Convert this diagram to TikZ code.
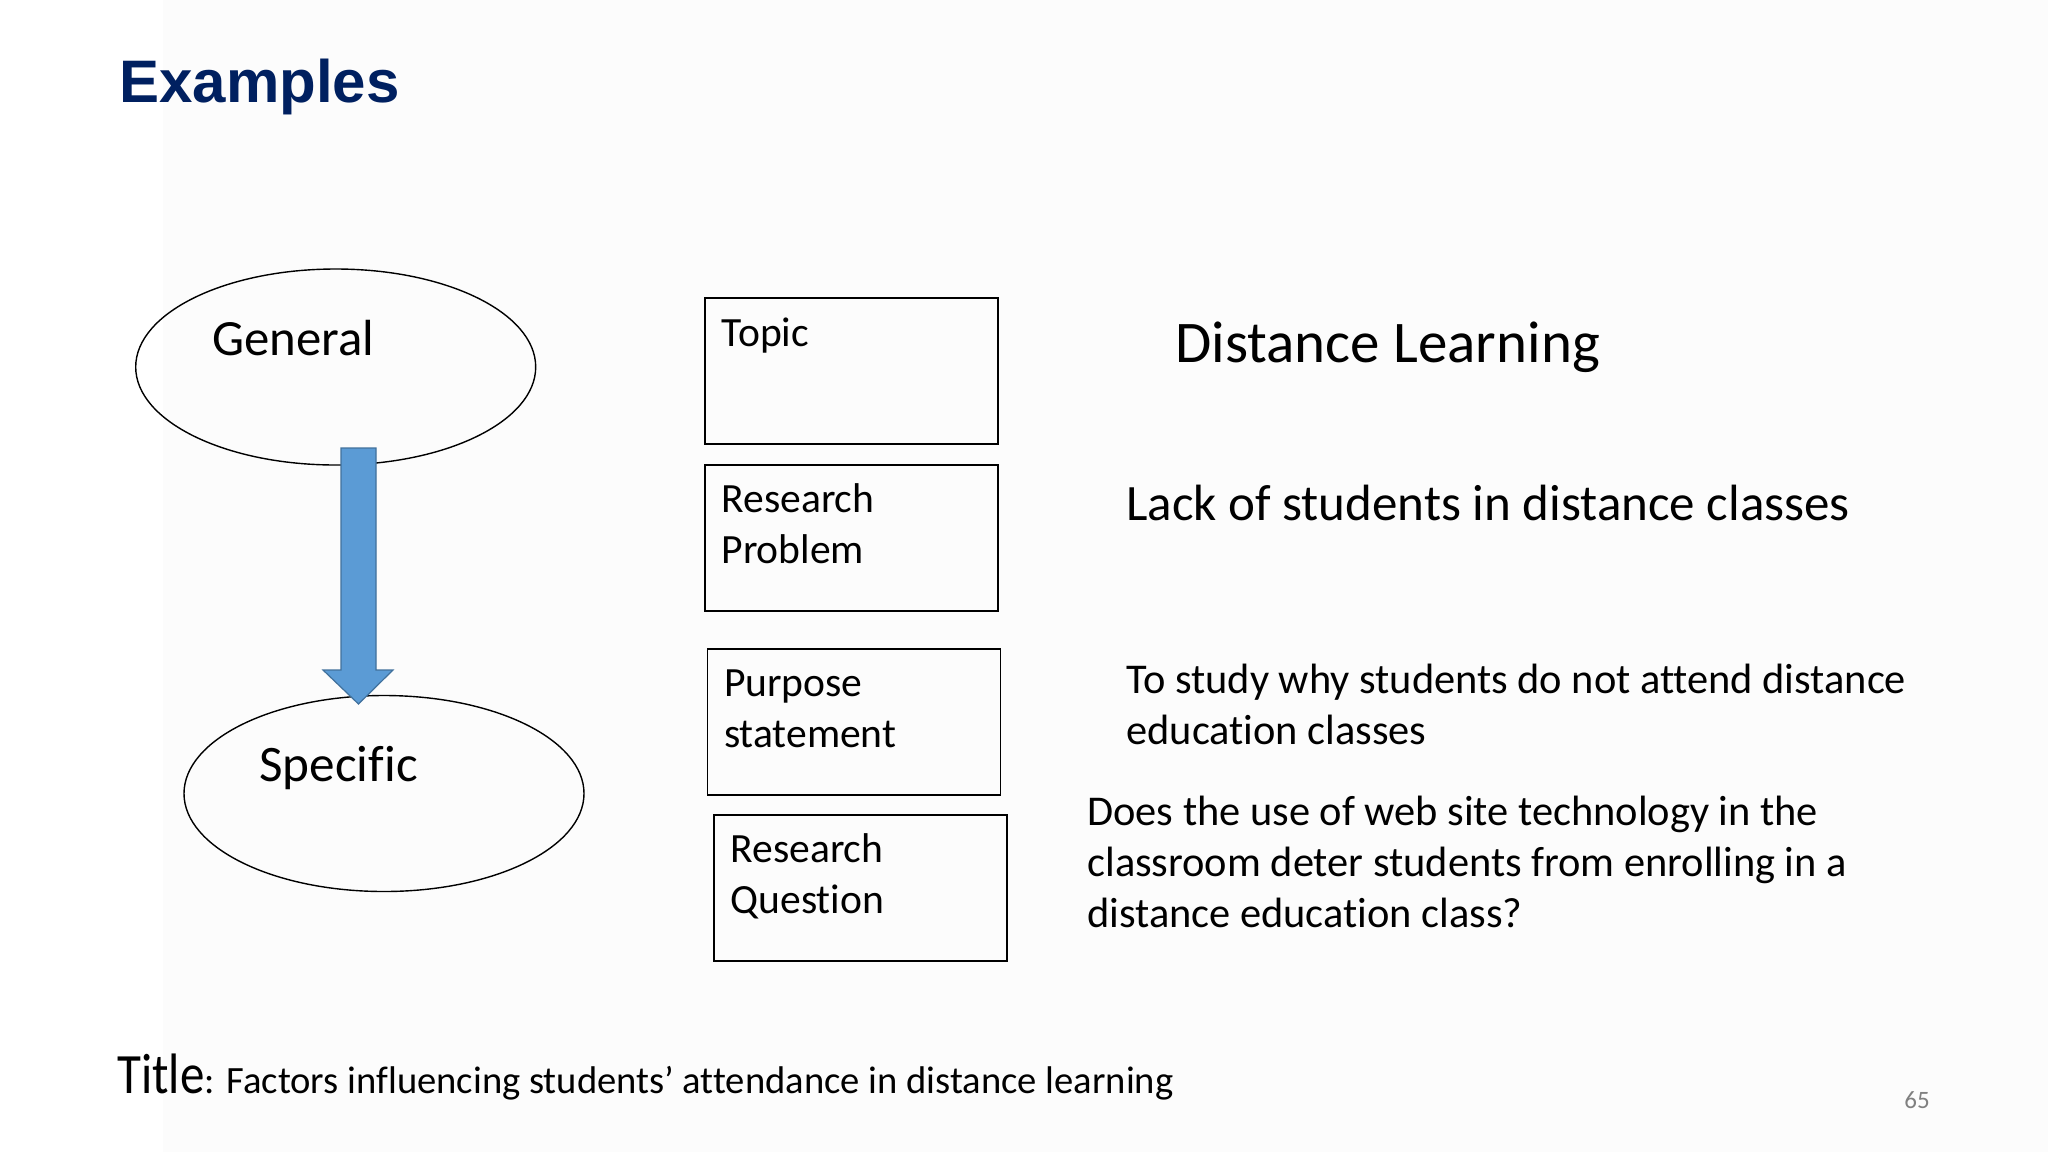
\documentclass[tikz,border=0pt]{standalone}
\usepackage{fontspec}
\setmainfont[Ligatures=NoCommon]{Carlito}
\newfontfamily\headfont{Liberation Sans}
\usetikzlibrary{positioning,calc,shapes.geometric}

\definecolor{headblue}{RGB}{0,32,96}
\definecolor{arrowblue}{RGB}{91,155,213}
\definecolor{arrowedge}{RGB}{65,113,156}
\definecolor{pagegray}{RGB}{128,128,128}
\definecolor{slidebg}{RGB}{252,252,252}

\tikzset{
  oval/.style={draw, ellipse, line width=0.7pt, minimum width=200pt, minimum height=98pt},
  box/.style={draw, rectangle, line width=0.9pt, minimum width=146.5pt, minimum height=73pt},
  txt/.style={anchor=base west, align=left, inner sep=0pt},
  boxtxt/.style={txt, font=\fontsize{20.8}{25.5}\selectfont},
  sidetxt/.style={txt, font=\fontsize{21.2}{25.5}\selectfont}
}

\begin{document}
\begin{tikzpicture}[x=0.5pt,y=-0.5pt]
  \useasboundingbox (0,0) rectangle (2048,1152);
  \fill[slidebg] (0,0) rectangle (2048,1152);
  \fill[white] (0,0) rectangle (163,1152);

  % heading
  \node[txt, text=headblue, font=\headfont\bfseries\fontsize{30}{36}\selectfont] (head) at (119,102) {Examples};

  % general -> specific
  \node[oval] (general) at (335.7,367) {};
  \node[oval] (specific) at (384,793.5) {};
  \node[txt, font=\fontsize{25.4}{30}\selectfont] (gentxt) at (212,355) {General};
  \node[txt, font=\fontsize{25.6}{30}\selectfont] (spectxt) at (259,781) {Specific};

  \coordinate (arrtop) at (358.5,448);
  \coordinate (arrtip) at (358.5,704);
  \filldraw[fill=arrowblue, draw=arrowedge, line width=0.6pt]
       ($(arrtop)+(-17.5,0)$) -- ($(arrtop)+(17.5,0)$)
    -- ($(arrtip)+(17.5,-34)$) -- ($(arrtip)+(34.5,-34)$)
    -- (arrtip)
    -- ($(arrtip)+(-35.5,-34)$) -- ($(arrtip)+(-17.5,-34)$) -- cycle;

  % the four boxes (text anchored on its last line)
  \node[box] (topic) at (851.5,371) {};
  \node[box] (problem) at (851.5,538) {};
  \node[box] (purpose) at (854,722) {};
  \node[box] (question) at (860.5,888) {};

  \node[boxtxt] (topictxt) at ($(topic.north west)+(17,49)$) {Topic};
  \node[boxtxt] (problemtxt) at ($(problem.north west)+(17,99)$) {Research\\Problem};
  \node[boxtxt] (purposetxt) at ($(purpose.north west)+(17,99)$) {Purpose\\statement};
  \node[boxtxt] (questiontxt) at ($(question.north west)+(17,99)$) {Research\\Question};

  % the example for each step
  \node[txt, font=\fontsize{29.5}{34}\selectfont] (topicex) at (1175,362) {Distance Learning};
  \node[txt, font=\fontsize{25.5}{30}\selectfont] (problemex) at (1126,520) {Lack of students in distance classes};
  \node[sidetxt] (purposeex) at (1126,744) {To study why students do not attend distance\\education classes};
  \node[sidetxt] (questionex) at (1087,927) {Does the use of web site technology in the\\classroom deter students from enrolling in a\\distance education class?};

  % title line and page number
  \node[txt] (title) at (117,1093) {\scalebox{0.86}[1]{\fontsize{28.5}{32}\selectfont Title}\fontsize{19.3}{22}\selectfont: Factors influencing students’ attendance in distance learning};
  \node[txt, text=pagegray, font=\fontsize{12.5}{15}\selectfont] (pageno) at (1904,1108) {65};
\end{tikzpicture}
\end{document}
